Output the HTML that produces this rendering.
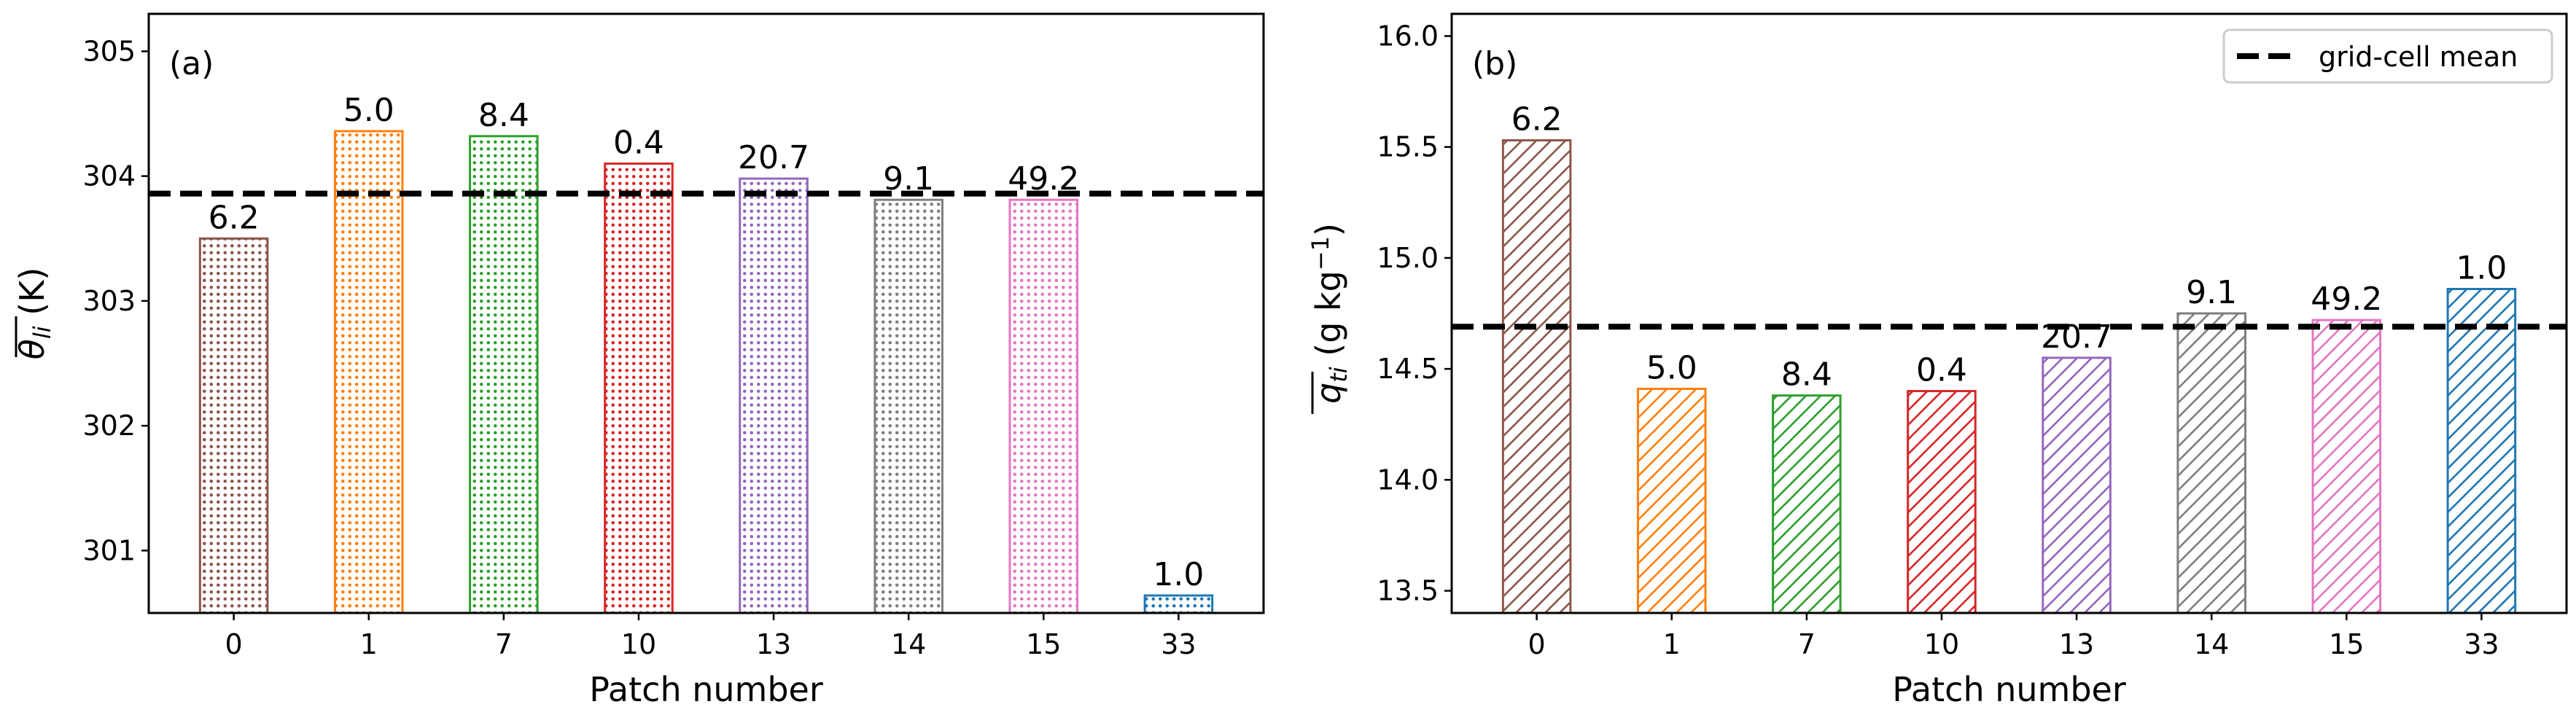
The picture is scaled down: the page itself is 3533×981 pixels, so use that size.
<!DOCTYPE html>
<html><head><meta charset="utf-8"><style>
html,body{margin:0;padding:0;background:#fff;}
svg{display:block;font-family:"DejaVu Sans","Liberation Sans",sans-serif;}
</style></head><body>
<svg id="fig" width="3533" height="981" viewBox="0 0 3533 981" xmlns="http://www.w3.org/2000/svg">
<defs id="defs"></defs>
</svg>
<script>
const categories = ["0","1","7","10","13","14","15","33"];
const colors = ["#8c564b","#ff7f0e","#2ca02c","#d62728","#9467bd","#7f7f7f","#e377c2","#1f77b4"];
const barLabels = ["6.2","5.0","8.4","0.4","20.7","9.1","49.2","1.0"];
const thetaValues = [303.50,304.36,304.32,304.10,303.98,303.81,303.81,300.64];
const thetaMean = 303.86;
const thetaTicks = [301,302,303,304,305];
const qValues = [15.53,14.41,14.38,14.40,14.55,14.75,14.72,14.86];
const qMean = 14.69;
const qTicks = [13.5,14.0,14.5,15.0,15.5,16.0];

const NS = "http://www.w3.org/2000/svg";
const svg = document.getElementById('fig');
const defs = document.getElementById('defs');
function mk(tag, attrs, parent){ const e=document.createElementNS(NS,tag); for(const k in attrs) e.setAttribute(k,attrs[k]); (parent||svg).appendChild(e); return e; }

colors.forEach((c,i)=>{
  const p = mk('pattern',{id:'dot'+i,width:9.5,height:9.5,patternUnits:'userSpaceOnUse'},defs);
  mk('circle',{cx:4.75,cy:4.75,r:2.3,fill:c},p);
  const h = mk('pattern',{id:'hatch'+i,width:20,height:20,patternUnits:'userSpaceOnUse'},defs);
  mk('path',{d:'M-5,5 L5,-5 M0,20 L20,0 M15,25 L25,15',stroke:c,'stroke-width':2.6},h);
});

function panel(opt){
  const {x0,x1,y0,y1,ymin,ymax,values,mean,ticks,fmt,pat,name,tag} = opt;
  const xs = i => x0 + (i+0.63)/(8.26)*(x1-x0);
  const ys = v => y1 - (v-ymin)/(ymax-ymin)*(y1-y0);
  const g = mk('g',{});
  
  
  const bw = 0.5/8.26*(x1-x0);
  values.forEach((v,i)=>{
    const b = mk('rect',{x:xs(i)-bw/2,y:ys(v),width:bw,height:y1-ys(v),fill:'url(#'+pat+i+')',stroke:colors[i],'stroke-width':3},g);
    
    
    const t = mk('text',{x:xs(i),y:ys(v)-14,'text-anchor':'middle','font-size':44,fill:'#000'},g);
    t.textContent = barLabels[i];
    
    
  });
  const ml = mk('line',{x1:x0,x2:x1,y1:ys(mean),y2:ys(mean),stroke:'#000','stroke-width':8,'stroke-dasharray':'30,13'},g);
  
  
  const fr = mk('rect',{x:x0,y:y0,width:x1-x0,height:y1-y0,fill:'none',stroke:'#000','stroke-width':3},g);
  
  
  ticks.forEach(t=>{
    mk('line',{x1:x0-10,x2:x0,y1:ys(t),y2:ys(t),stroke:'#000','stroke-width':2.5},g);
    const tl = mk('text',{x:x0-18,y:ys(t)+13,'text-anchor':'end','font-size':38},g);
    tl.textContent = fmt(t);
    
    
  });
  categories.forEach((c,i)=>{
    mk('line',{x1:xs(i),x2:xs(i),y1:y1,y2:y1+10,stroke:'#000','stroke-width':2.5},g);
    const tl = mk('text',{x:xs(i),y:y1+56,'text-anchor':'middle','font-size':38},g);
    tl.textContent = c;
    
    
  });
  const xl = mk('text',{x:(x0+x1)/2,y:962,'text-anchor':'middle','font-size':46},g);
  xl.textContent = 'Patch number';
  
  
  const pl = mk('text',{x:x0+28,y:102,'font-size':44},g);
  pl.textContent = tag;
  
  
  return g;
}

panel({x0:204,x1:1733,y0:19,y1:841,ymin:300.5,ymax:305.3,values:thetaValues,mean:thetaMean,ticks:thetaTicks,fmt:t=>String(t),pat:'dot',name:'panel-a-theta',tag:'(a)'});
panel({x0:1991,x1:3520,y0:19,y1:841,ymin:13.4,ymax:16.1,values:qValues,mean:qMean,ticks:qTicks,fmt:t=>t.toFixed(1),pat:'hatch',name:'panel-b-qt',tag:'(b)'});

const yl1 = mk('text',{transform:'translate(60,430) rotate(-90)','text-anchor':'middle','font-size':46});
yl1.innerHTML = '<tspan font-style="italic">θ</tspan><tspan font-size="32" font-style="italic" dy="9">li</tspan><tspan dy="-9"> (K)</tspan>';


const ov1 = mk('line',{x1:22,x2:22,y1:490,y2:434,stroke:'#000','stroke-width':3});


const yl2 = mk('text',{transform:'translate(1838,430) rotate(-90)','text-anchor':'middle','font-size':46});
yl2.innerHTML = '<tspan font-style="italic">q</tspan><tspan font-size="32" font-style="italic" dy="9">ti</tspan><tspan dy="-9"> (g kg</tspan><tspan font-size="32" dy="-16">−1</tspan><tspan dy="16">)</tspan>';


const ov = mk('line',{x1:1800,x2:1800,y1:568,y2:510,stroke:'#000','stroke-width':3});



const lg = mk('g',{});


mk('rect',{x:3050,y:41,width:450,height:72,rx:8,fill:'#fff',stroke:'#ccc','stroke-width':3},lg);
mk('line',{x1:3068,x2:3150,y1:77,y2:77,stroke:'#000','stroke-width':8,'stroke-dasharray':'30,13'},lg);
const lt = mk('text',{x:3180,y:91,'font-size':38},lg);
lt.textContent = 'grid-cell mean';


</script>
</body></html>
